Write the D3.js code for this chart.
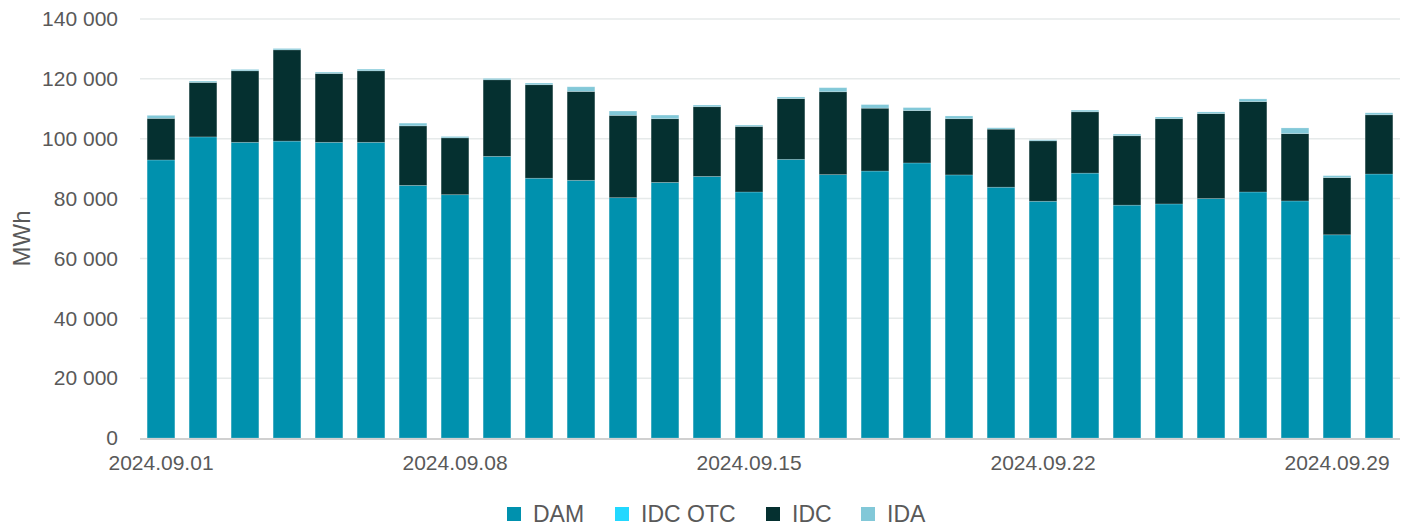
<!DOCTYPE html>
<html>
<head>
<meta charset="utf-8">
<script src="https://cdn.jsdelivr.net/npm/d3@7"></script>
<style>
  body { margin: 0; background: #fff; }
  text { font-family: "Liberation Sans", Arial, sans-serif; fill: #595959; }
</style>
</head>
<body>
<div id="chart"></div>
<script>
// Categories (days of September 2024)
var days = ["2024.09.01", "2024.09.02", "2024.09.03", "2024.09.04", "2024.09.05", "2024.09.06", "2024.09.07",
    "2024.09.08", "2024.09.09", "2024.09.10", "2024.09.11", "2024.09.12", "2024.09.13", "2024.09.14",
    "2024.09.15", "2024.09.16", "2024.09.17", "2024.09.18", "2024.09.19", "2024.09.20", "2024.09.21",
    "2024.09.22", "2024.09.23", "2024.09.24", "2024.09.25", "2024.09.26", "2024.09.27", "2024.09.28",
    "2024.09.29", "2024.09.30"];

// Series values, MWh
var dam = [92900, 100600, 98800, 99200, 98800, 98800, 84400, 81300, 94100, 86800, 86100, 80300, 85400, 87400,
    82200, 93100, 88000, 89200, 91900, 87900, 83800, 79100, 88500, 77800, 78200, 80000, 82200, 79200, 67900, 88200];
var idcOtc = [0, 0, 0, 0, 0, 0, 0, 0, 0, 0, 0, 0, 0, 0, 0, 0, 0, 0, 0, 0, 0, 0, 0, 0, 0, 0, 0, 0, 0, 0];
var idc = [13900, 18200, 23900, 30500, 23000, 23900, 19900, 19000, 25600, 31250, 29700, 27500, 21300, 23300,
    21900, 20300, 27700, 21000, 17500, 18800, 19400, 20200, 20500, 23200, 28500, 28400, 30200, 22500, 19100, 19800];
var ida = [1000, 450, 450, 450, 450, 550, 900, 450, 450, 550, 1550, 1450, 1200, 550,
    450, 550, 1350, 1200, 1000, 900, 450, 350, 550, 550, 550, 550, 900, 1900, 650, 650];

var seriesNames = ["DAM", "IDC OTC", "IDC", "IDA"];
var yTicks = [0, 20000, 40000, 60000, 80000, 100000, 120000, 140000];

var width = 1409, height = 529;
var margin = { top: 19, right: 9, bottom: 91, left: 140 };

var svg = d3.select("#chart").append("svg")
    .attr("width", width)
    .attr("height", height);

// Build rows for the stack
var rows = days.map(function (d, i) {
    return { day: d, "DAM": dam[i], "IDC OTC": idcOtc[i], "IDC": idc[i], "IDA": ida[i] };
});

var x = d3.scaleBand()
    .domain(days)
    .range([margin.left, width - margin.right])
    .paddingInner(0.34)
    .paddingOuter(0.17);

var y = d3.scaleLinear()
    .domain([0, 140000])
    .range([height - margin.bottom, margin.top]);

var color = d3.scaleOrdinal()
    .domain(seriesNames)
    .range(["#0091ae", "#22d8ff", "#053030", "#82c8d8"]);

// Number format with a space as thousands separator
var fmt = d3.formatLocale({ decimal: ",", thousands: "\u00a0", grouping: [3], currency: ["", ""] }).format(",");

// Grid lines
svg.append("g")
    .selectAll("line")
    .data(yTicks.filter(function (t) { return t > 0; }))
    .enter().append("line")
    .attr("x1", margin.left)
    .attr("x2", width - margin.right)
    .attr("y1", function (d) { return y(d); })
    .attr("y2", function (d) { return y(d); })
    .style("stroke", "#e6eaea")
    .style("stroke-width", "1.5px");

// Y axis
var yAxis = svg.append("g")
    .attr("transform", "translate(" + margin.left + ",0)")
    .call(d3.axisLeft(y).tickValues(yTicks).tickFormat(fmt).tickSize(0).tickPadding(22));
yAxis.select(".domain").remove();
yAxis.selectAll("text").style("font-size", "21px");

// Stacked bars
var stacked = d3.stack().keys(seriesNames)(rows);

svg.append("g")
    .selectAll("g")
    .data(stacked)
    .enter().append("g")
    .attr("fill", function (d) { return color(d.key); })
    .selectAll("rect")
    .data(function (d) { return d; })
    .enter().append("rect")
    .attr("x", function (d) { return x(d.data.day); })
    .attr("y", function (d) { return y(d[1]); })
    .attr("width", x.bandwidth())
    .attr("height", function (d) { return y(d[0]) - y(d[1]); })
    .style("stroke", "rgba(255,255,255,0.25)")
    .style("stroke-width", function (d) { return d[1] > d[0] ? "0.8px" : "0px"; });

// Baseline
svg.append("line")
    .attr("x1", margin.left)
    .attr("x2", width - margin.right)
    .attr("y1", y(0) + 1)
    .attr("y2", y(0) + 1)
    .style("stroke", "#d0d0d0")
    .style("stroke-width", "2px");

// X axis, one label per week
var xAxis = svg.append("g")
    .attr("transform", "translate(0," + y(0) + ")")
    .call(d3.axisBottom(x)
        .tickValues(days.filter(function (d, i) { return i % 7 === 0; }))
        .tickSize(0)
        .tickPadding(17));
xAxis.select(".domain").remove();
xAxis.selectAll("text").style("font-size", "21px");

// Y axis title
svg.append("text")
    .attr("transform", "translate(30," + (y(70000) + 10) + ") rotate(-90)")
    .attr("text-anchor", "middle")
    .style("font-size", "24px")
    .text("MWh");

// Legend
var legendX = [507, 615, 766, 861];
var legend = svg.append("g")
    .selectAll("g")
    .data(seriesNames)
    .enter().append("g")
    .attr("transform", function (d, i) { return "translate(" + legendX[i] + ",507)"; });

legend.append("rect")
    .attr("width", 14)
    .attr("height", 14)
    .attr("fill", function (d) { return color(d); });

legend.append("text")
    .attr("x", 26)
    .attr("y", 15)
    .style("font-size", "23px")
    .text(function (d) { return d; });
</script>
</body>
</html>
